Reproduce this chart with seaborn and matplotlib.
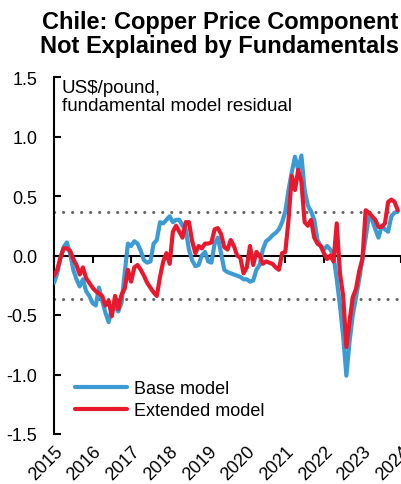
import numpy as np
import pandas as pd
import seaborn as sns
import matplotlib.pyplot as plt

# monthly residuals, Jan 2015 - Dec 2023 (US$/pound)
base_model = [
    -0.23, -0.15, -0.02, 0.07, 0.11, 0.02, -0.12, -0.20, -0.26, -0.20, -0.30, -0.34,
    -0.40, -0.42, -0.27, -0.38, -0.48, -0.56, -0.45, -0.44, -0.47, -0.40, -0.15, 0.10,
    0.08, 0.12, 0.10, 0.04, -0.04, -0.06, -0.05, 0.10, 0.13, 0.28, 0.27, 0.30,
    0.33, 0.28, 0.30, 0.30, 0.25, 0.22, 0.05, -0.04, -0.09, -0.08, 0.00, 0.03,
    -0.05, -0.06, 0.10, 0.15, 0.02, -0.12, -0.14, -0.15, -0.16, -0.17, -0.18, -0.20,
    -0.20, -0.22, -0.21, -0.12, -0.08, 0.05, 0.12, 0.14, 0.17, 0.19, 0.22, 0.28,
    0.37, 0.55, 0.70, 0.83, 0.72, 0.84, 0.55, 0.42, 0.37, 0.30, 0.13, 0.08,
    0.05, 0.08, 0.05, 0.00, -0.20, -0.42, -0.68, -1.01, -0.72, -0.50, -0.35, -0.20,
    -0.02, 0.15, 0.33, 0.30, 0.22, 0.15, 0.25, 0.22, 0.20, 0.33, 0.36, 0.37,
]
extended_model = [
    -0.17, -0.12, -0.02, 0.06, 0.06, 0.04, -0.03, -0.08, -0.16, -0.10, -0.19, -0.23,
    -0.27, -0.30, -0.32, -0.34, -0.42, -0.38, -0.51, -0.34, -0.45, -0.33, -0.28, -0.12,
    -0.22, -0.10, -0.08, -0.12, -0.17, -0.23, -0.27, -0.31, -0.34, -0.18, -0.05, 0.02,
    -0.07, 0.20, 0.25, 0.20, 0.15, 0.28, 0.28, 0.12, 0.02, 0.08, 0.06, 0.10,
    0.10, 0.11, 0.22, 0.23, 0.18, 0.07, 0.05, 0.13, 0.08, 0.00, -0.02, -0.15,
    -0.10, 0.08, -0.08, 0.03, 0.00, -0.07, -0.05, -0.06, -0.07, -0.10, -0.12, 0.02,
    0.03, 0.30, 0.67, 0.55, 0.72, 0.62, 0.28, 0.25, 0.30, 0.15, 0.10, 0.08,
    0.02, -0.03, 0.00, -0.05, 0.27, -0.15, -0.34, -0.77, -0.55, -0.35, -0.28, -0.13,
    -0.03, 0.38, 0.36, 0.33, 0.30, 0.24, 0.24, 0.27, 0.45, 0.47, 0.45, 0.38,
]
band = 0.365
years = list(range(2015, 2025))

t = 2015 + np.arange(len(base_model)) / 12
df = pd.DataFrame({
    "t": np.concatenate([t, t]),
    "value": base_model + extended_model,
    "series": ["Base model"] * len(t) + ["Extended model"] * len(t),
})

sns.set_theme(style="white")
plt.rcParams["font.family"] = ["Liberation Sans", "DejaVu Sans"]
plt.rcParams["text.color"] = "black"
plt.rcParams["xtick.color"] = "black"
plt.rcParams["ytick.color"] = "black"

fig = plt.figure(figsize=(4.01, 4.85), dpi=100)
ax = fig.add_axes([54 / 401, 50 / 485, 347 / 401, 357 / 485])

sns.lineplot(data=df, x="t", y="value", hue="series",
             palette={"Base model": "#3d9bd3", "Extended model": "#e8192c"},
             linewidth=3, ax=ax, zorder=3)

for y in (band, -band):
    ax.axhline(y, color="#666666", lw=2.2, linestyle=(0, (0.05, 2.9)),
               dash_capstyle="round", zorder=1)

ax.set_xlim(2015, 2015 + 347 / 39)
ax.set_ylim(-1.5, 1.5)
ax.set_yticks([-1.5, -1.0, -0.5, 0.0, 0.5, 1.0, 1.5])
ax.set_yticklabels(["-1.5", "-1.0", "-0.5", "0.0", "0.5", "1.0", "1.5"])
ax.set_xlabel("")
ax.set_ylabel("")

for s in ("top", "right"):
    ax.spines[s].set_visible(False)
ax.spines["left"].set_color("black")
ax.spines["left"].set_linewidth(1.5)
ax.spines["bottom"].set_position(("data", 0))
ax.spines["bottom"].set_color("black")
ax.spines["bottom"].set_linewidth(1.5)

ax.set_xticks(years)
ax.tick_params(axis="x", direction="out", length=5, width=1.5, colors="black",
               labelbottom=False, bottom=True)
ax.tick_params(axis="y", direction="in", length=5, width=1.5, colors="black",
               labelsize=13, pad=12, left=True)

sec = ax.secondary_xaxis("bottom")
sec.set_xticks(years)
sec.set_xticklabels([str(y) for y in years], rotation=45, ha="right",
                    rotation_mode="anchor", fontsize=13, color="black")
sec.tick_params(length=0, pad=6)
sec.spines["bottom"].set_visible(False)

ax.text(0.023, 0.995, "US$/pound,\nfundamental model residual",
        transform=ax.transAxes, ha="left", va="top", fontsize=13.5,
        linespacing=1.1, color="black")

leg = ax.legend(loc="upper left", bbox_to_anchor=(75 / 401, 1 - 381 / 485),
                bbox_transform=fig.transFigure, frameon=False, fontsize=13,
                handlelength=2.9, handletextpad=0.35, labelspacing=0.3,
                borderpad=0, borderaxespad=0)
for txt in leg.get_texts():
    txt.set_color("black")

fig.text(0.548, 0.978, "Chile: Copper Price Component\nNot Explained by Fundamentals",
         ha="center", va="top", fontsize=17, fontweight="bold", linespacing=1.05,
         color="black")

fig.savefig("out.png", dpi=100)
